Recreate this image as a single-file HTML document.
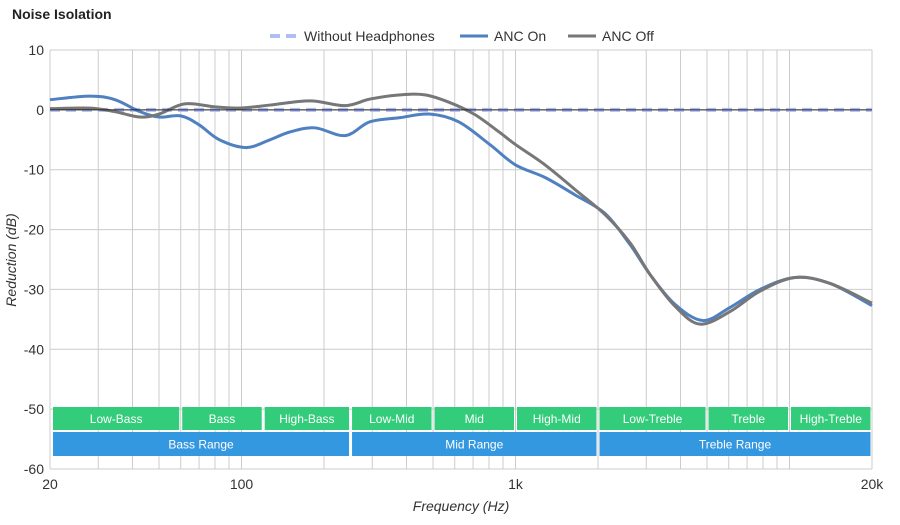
<!DOCTYPE html>
<html><head><meta charset="utf-8"><style>
body{margin:0;background:#fff;font-family:"Liberation Sans",sans-serif}
svg text{font-family:"Liberation Sans",sans-serif}
</style></head><body>
<svg id="c" width="900" height="520" viewBox="0 0 900 520">
<text x="12" y="19" font-size="14" font-weight="bold" fill="#222">Noise Isolation</text>
<g id="grid"></g>
<g id="bands"></g>
<g id="series"></g>
<g id="axes"></g>
<g>
 <g><line x1="270" y1="36" x2="298" y2="36" stroke="#aebdf5" stroke-width="4" stroke-dasharray="10,6"/><text x="304" y="41" font-size="14" fill="#333">Without Headphones</text></g>
 <g><line x1="460" y1="36" x2="488" y2="36" stroke="#4f80c0" stroke-width="3"/><text x="494" y="41" font-size="14" fill="#333">ANC On</text></g>
 <g><line x1="568" y1="36" x2="596" y2="36" stroke="#777" stroke-width="3"/><text x="602" y="41" font-size="14" fill="#333">ANC Off</text></g>
</g>
<text x="461" y="511" font-size="14" font-style="italic" text-anchor="middle" fill="#333">Frequency (Hz)</text>
<text transform="translate(16,260) rotate(-90)" font-size="14" font-style="italic" text-anchor="middle" fill="#333">Reduction (dB)</text>
</svg>
<script>
const yTicks=[10,0,-10,-20,-30,-40,-50,-60];
const xTickVals=[20,100,1000,20000];
const xTickLabels=["20","100","1k","20k"];
const freqOn=[20,28,34.5,42.6,50,60,70,83,104,127,150,185,239,294,379,484,620,806,1000,1282,1648,2120,2617,3097,3820,4830,6068,7800,10470,14060,20000];
const dbOn=[1.7,2.3,1.7,-0.3,-1.2,-1,-2.5,-5,-6.3,-5,-3.7,-3,-4.3,-2,-1.3,-0.7,-2,-5.8,-9.2,-11.3,-14.2,-17.3,-22.5,-27.5,-32.5,-35.2,-33,-30,-28,-29,-32.7];
const freqOff=[20,28,34.5,42.6,50,62,80,99,127,178,239,294,379,467,577,711,877,1000,1282,1648,2120,2617,3097,3820,4711,6068,7800,10470,14060,20000];
const dbOff=[0.2,0.3,-0.3,-1.2,-0.7,1,0.5,0.3,0.8,1.5,0.7,1.8,2.5,2.5,1.2,-0.8,-3.8,-5.8,-9.2,-13.3,-17.5,-22.2,-27.5,-32.8,-35.8,-33.7,-30.3,-28,-29,-32.3];
const bandNames=["Low-Bass","Bass","High-Bass","Low-Mid","Mid","High-Mid","Low-Treble","Treble","High-Treble"];
const bandEdges=[20,60,120,250,500,1000,2000,5000,10000,20000];
const rangeNames=["Bass Range","Mid Range","Treble Range"];
const rangeEdges=[20,250,2000,20000];
const NS="http://www.w3.org/2000/svg";
const X0=50,X1=872,Y0=50,Y1=469;
const x=f=>X0+(Math.log10(f)-Math.log10(20))/3*(X1-X0);
const y=v=>Y0+(10-v)/70*(Y1-Y0);
function mk(t,a,p){const e=document.createElementNS(NS,t);for(const k in a)e.setAttribute(k,a[k]);p.appendChild(e);return e;}
const grid=document.getElementById('grid');
yTicks.forEach(v=>{const l=mk('line',{x1:X0,x2:X1,y1:y(v),y2:y(v),stroke:'#ccc','stroke-width':1},grid);

});
for(let d=10;d<=10000;d*=10)for(let m=1;m<=9;m++){const f=d*m;if(f<20||f>20000)continue;
const l=mk('line',{x1:x(f),x2:x(f),y1:Y0,y2:Y1,stroke:'#ccc','stroke-width':1},grid);

}
const ax=document.getElementById('axes');
yTicks.forEach(v=>{const t=mk('text',{x:44,y:y(v)+5,'text-anchor':'end','font-size':14,fill:'#333'},ax);t.textContent=v;

});
xTickVals.forEach((f,i)=>{const t=mk('text',{x:x(f),y:489,'text-anchor':'middle','font-size':14,fill:'#333'},ax);t.textContent=xTickLabels[i];

});
const zl=mk('line',{x1:X0,x2:X1,y1:y(0),y2:y(0),stroke:'#222','stroke-width':1},ax);


const bg=document.getElementById('bands');
function bands(names,edges,y1,h,col){names.forEach((n,i)=>{const a=x(edges[i])+(i?1.5:3),b=x(edges[i+1])-1.5;
const r=mk('rect',{x:a,y:y1,width:b-a,height:h,fill:col},bg);


const t=mk('text',{x:(a+b)/2,y:y1+h/2+4.5,'text-anchor':'middle','font-size':12,fill:'#fff'},bg);t.textContent=n;

});}
bands(bandNames,bandEdges,407,23,'#33cc7a');
bands(rangeNames,rangeEdges,432,24,'#3498e0');
function path(fs,vs){const p=fs.map((f,i)=>[x(f),y(vs[i])]);let d='M'+p[0][0]+','+p[0][1];
for(let i=0;i<p.length-1;i++){const a=p[i-1]||p[i],b=p[i],c=p[i+1],e=p[i+2]||c;
d+=' C'+(b[0]+(c[0]-a[0])/6)+','+(b[1]+(c[1]-a[1])/6)+' '+(c[0]-(e[0]-b[0])/6)+','+(c[1]-(e[1]-b[1])/6)+' '+c[0]+','+c[1];}return d;}
const sg=document.getElementById('series');
const w=mk('line',{x1:X0,x2:X1,y1:y(0),y2:y(0),stroke:'#aebdf5','stroke-width':4,'stroke-dasharray':'10,6'},sg);


const on=mk('path',{d:path(freqOn,dbOn),fill:'none',stroke:'#4f80c0','stroke-width':3},sg);


const off=mk('path',{d:path(freqOff,dbOff),fill:'none',stroke:'#777','stroke-width':3},sg);


</script>
</body></html>
